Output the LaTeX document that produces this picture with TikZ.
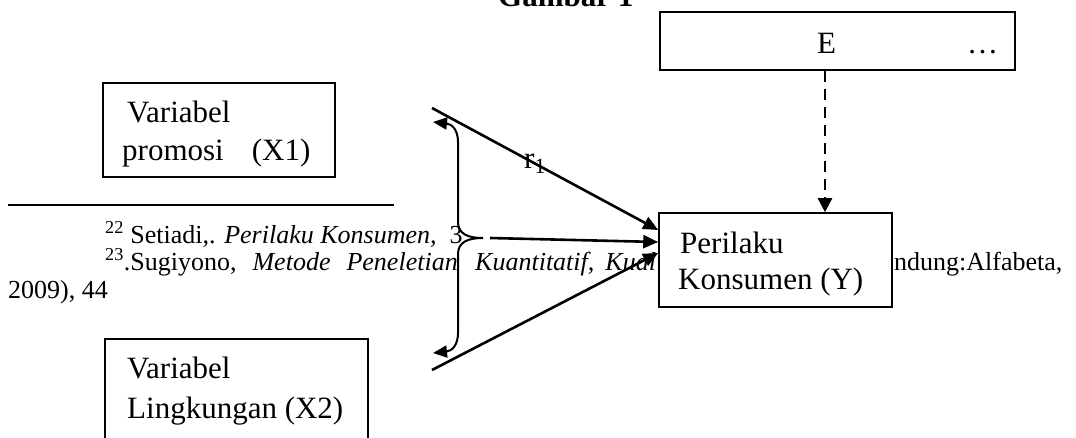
\documentclass[tikz,border=0pt]{standalone}
\usepackage{fontspec}
\setmainfont{Liberation Serif}
\usetikzlibrary{arrows.meta,calc}
\begin{document}
\begin{tikzpicture}[x=1pt,y=-1pt,
  boxnode/.style={draw,line width=1.6pt,fill=white,inner sep=0pt,rectangle},
  btext/.style={anchor=base west,inner sep=0pt,font=\fontsize{31}{37}\selectfont},
  ftext/.style={anchor=base west,inner sep=0pt,font=\fontsize{26}{30}\selectfont},
  arr/.style={line width=2.6pt,-{Triangle[length=15pt,width=13pt]}},
  bracearr/.style={line width=2pt,-{Triangle[length=14pt,width=12pt]}},
  dasharr/.style={line width=2.6pt,dash pattern=on 11pt off 7pt,-{Triangle[length=14pt,width=14pt]}},
  rulestyle/.style={line width=1.2pt}]
\useasboundingbox (0,0) rectangle (1076,437);
\clip (0,0) rectangle (1076,437);

% title (cut at top)
\node[anchor=base west,inner sep=0pt,font=\fontsize{31}{37}\selectfont\bfseries] (title) at (498,6) {Gambar 1};

% footnotes
\coordinate (ruleL) at (8,205);
\coordinate (ruleR) at (394,205);
\draw[rulestyle] (ruleL) -- (ruleR);
\node[ftext] (fn1) at (105,243) {\textsuperscript{22} Setiadi,. \textit{Perilaku Konsumen,}\ \ 3};
\node[ftext] (fn2a) at (105,270) {\textsuperscript{23}.Sugiyono,\hspace{16pt}\textit{Metode}\hspace{16pt}\textit{Peneletian}};
\node[ftext] (fn2b) at (475,270) {\textit{Kuantitatif,}\hspace{11pt}\textit{Kual}};
\node[ftext] (fn2c) at (894,270) {ndung:Alfabeta,};
\node[ftext] (fn3) at (8,298) {2009), 44};

% boxes
\node[boxnode,minimum width=232pt,minimum height=94pt] (X1) at (219,130) {};
\node[boxnode,minimum width=263pt,minimum height=110pt] (X2) at (236.5,394) {};
\node[boxnode,minimum width=233pt,minimum height=94pt] (Y) at (775.5,260) {};
\node[boxnode,minimum width=355pt,minimum height=58pt] (E) at (837.5,41) {};

% box texts
\node[btext] (x1a) at (127,122) {Variabel};
\node[btext] (x1b) at (122,160) {promosi\hspace{28pt}(X1)};
\node[btext] (x2a) at (127,378) {Variabel};
\node[btext] (x2b) at (127,418) {Lingkungan (X2)};
\node[btext] (ya) at (680,253) {Perilaku};
\node[btext] (yb) at (678,289) {Konsumen (Y)};
\node[btext] (ee) at (817,53) {E};
\node[btext] (edots) at (967,53) {…};

% brace with arrow ends
\coordinate (bt) at (483,238);
\coordinate (bup) at (433,122);
\coordinate (blo) at (433,353);
\draw[bracearr] (bt) .. controls (468,238) and (458,234) .. (458,222) -- (458,142) .. controls (458,130) and (452,124) .. (bup);
\draw[bracearr] (bt) .. controls (468,238) and (458,242) .. (458,254) -- (458,333) .. controls (458,345) and (452,351) .. (blo);

% arrows into Y
\coordinate (s1) at (432,108);
\coordinate (s2) at (490,238);
\coordinate (s3) at (432,370);
\draw[arr] (s1) -- ($(Y.west)+(0,-30)$);
\draw[arr] (s2) -- ($(Y.west)+(0,-18)$);
\draw[arr] (s3) -- ($(Y.west)+(0,-7)$);
\node[btext] (r1) at (524,168) {r\textsubscript{1}};

% dashed arrow from E to Y
\coordinate (dx) at (825,0);
\draw[dasharr] (E.south -| dx) -- (Y.north -| dx);
\end{tikzpicture}
\end{document}
